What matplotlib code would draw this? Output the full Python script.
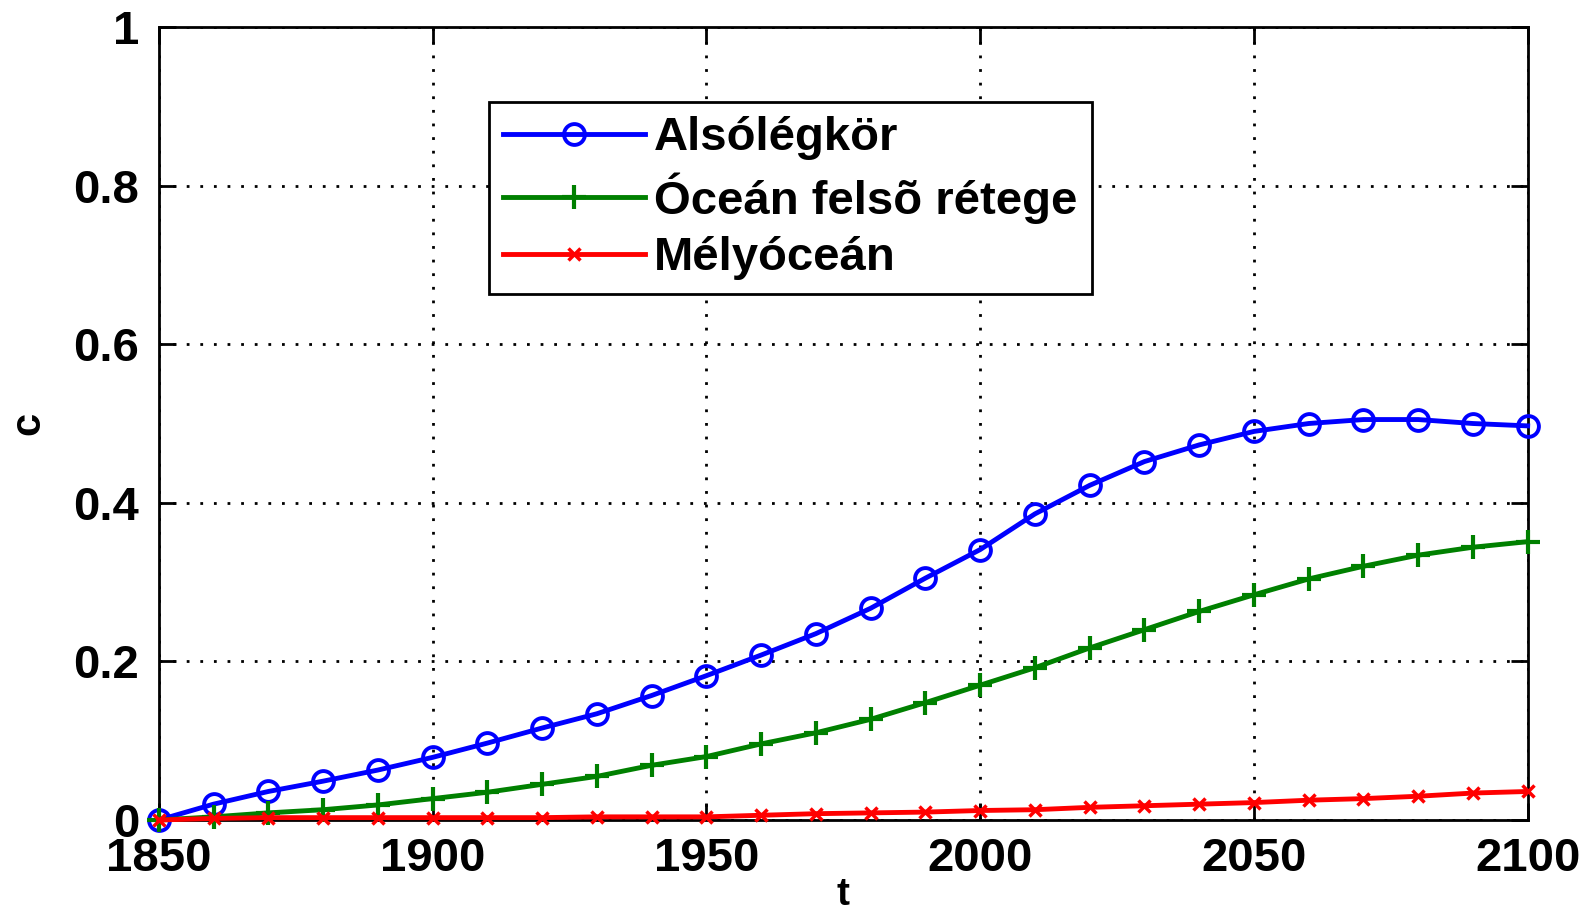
import matplotlib.pyplot as plt

# Évek (10 évenként) és koncentrációk
years = [1850, 1860, 1870, 1880, 1890, 1900, 1910, 1920, 1930, 1940, 1950, 1960, 1970,
         1980, 1990, 2000, 2010, 2020, 2030, 2040, 2050, 2060, 2070, 2080, 2090, 2100]

also_legkor = [0.000, 0.020, 0.036, 0.049, 0.063, 0.079, 0.097, 0.116, 0.134, 0.157, 0.182,
               0.208, 0.235, 0.267, 0.305, 0.341, 0.386, 0.422, 0.452, 0.473, 0.490, 0.500,
               0.505, 0.505, 0.500, 0.497]
ocean_felso = [0.000, 0.004, 0.009, 0.013, 0.019, 0.027, 0.035, 0.045, 0.055, 0.069, 0.080,
               0.096, 0.110, 0.127, 0.148, 0.170, 0.192, 0.217, 0.240, 0.263, 0.284, 0.304,
               0.320, 0.334, 0.344, 0.351]
melyocean = [0.000, 0.002, 0.003, 0.003, 0.003, 0.003, 0.003, 0.003, 0.004, 0.004, 0.004,
             0.006, 0.008, 0.009, 0.010, 0.012, 0.013, 0.016, 0.018, 0.020, 0.022, 0.025,
             0.027, 0.030, 0.034, 0.036]

labels = ['Alsólégkör', 'Óceán felsõ rétege', 'Mélyóceán']
xticks = [1850, 1900, 1950, 2000, 2050, 2100]
yticks = [0, 0.2, 0.4, 0.6, 0.8, 1]
yticklabels = ['0', '0.2', '0.4', '0.6', '0.8', '1']

plt.rcParams['font.family'] = ['Liberation Sans', 'DejaVu Sans']
plt.rcParams['font.weight'] = 'bold'

fig = plt.figure(figsize=(15.96, 9.15), dpi=100)
ax = fig.add_axes([0.0995, 0.1038, 0.8577, 0.8667])

ax.plot(years, also_legkor, color='#0000ff', lw=3.5, marker='o', ms=15, mfc='none',
        mew=2.8, label=labels[0], clip_on=False, zorder=3)
ax.plot(years, ocean_felso, color='#008000', lw=3.5, marker='+', ms=17, mew=3,
        label=labels[1], clip_on=False, zorder=4)
ax.plot(years, melyocean, color='#ff0000', lw=3.5, marker='x', ms=9, mew=2.5,
        label=labels[2], clip_on=False, zorder=5)

ax.set_xlim(1850, 2100)
ax.set_ylim(0, 1)
ax.set_xticks(xticks)
ax.set_yticks(yticks)
ax.set_yticklabels(yticklabels)
ax.grid(True, color='black', linestyle=(0, (1, 3.9)), linewidth=2)
ax.tick_params(direction='in', length=12, width=2, top=True, right=True,
               labelsize=34, pad=12)
ax.tick_params(axis='y', pad=14)
for s in ax.spines.values():
    s.set_linewidth(2)

ax.set_xlabel('t', fontsize=28, fontweight='bold', labelpad=-3)
ax.set_ylabel('c', fontsize=30, fontweight='bold', labelpad=18)

leg = ax.legend(loc='upper left', bbox_to_anchor=(0.3064, 0.8885),
                bbox_transform=fig.transFigure, borderaxespad=0,
                fontsize=34, handlelength=3.0, handletextpad=0.2,
                labelspacing=0.26, borderpad=0.3, fancybox=False, framealpha=1)
leg.get_frame().set_edgecolor('black')
leg.get_frame().set_linewidth(2)

fig.savefig('out.png', dpi=100)
